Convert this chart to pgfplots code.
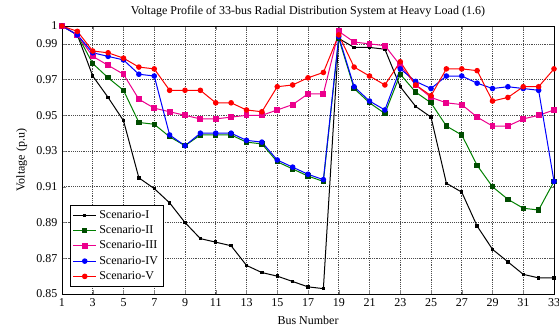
\documentclass[border=0pt]{standalone}
\usepackage{fontspec}
\setmainfont{Liberation Serif}
\usepackage{pgfplots}
\pgfplotsset{compat=1.18}
\definecolor{dgreen}{rgb}{0,0.5,0}
\definecolor{ddgreen}{rgb}{0,0.3,0}
\begin{document}
\begin{tikzpicture}
\begin{axis}[
  name=ax,
  scale only axis,
  width=369pt, height=201pt,
  xmin=1, xmax=33, ymin=0.85, ymax=1,
  xtick={1,3,...,33},
  ytick={0.85,0.87,0.89,0.91,0.93,0.95,0.97,0.99,1},
  yticklabel style={/pgf/number format/fixed,/pgf/number format/precision=2},
  /pgf/number format/assume math mode=true,
  tick label style={font=\fontsize{9}{10}\selectfont},
  label style={font=\fontsize{9}{10}\selectfont},
  title style={font=\fontsize{9}{10}\selectfont, yshift=-3pt},
  title={Voltage Profile of 33-bus Radial Distribution System at Heavy Load (1.6)},
  xlabel={Bus Number},
  ylabel={Voltage (p.u)},
  xlabel style={yshift=0pt},
  ylabel style={yshift=0pt},
  grid=major,
  major grid style={black!70, densely dotted, line width=0.5pt},
  tick align=inside,
  major tick length=3pt,
  axis line style={black, line width=0.5pt},
  legend style={at={(0.016,0.026)}, anchor=south west, font=\fontsize{9}{10}\selectfont, draw=black, line width=0.5pt, row sep=0pt, inner sep=2pt},
  legend cell align=left,
  every axis plot/.append style={line width=0.75pt},
]
\addplot[black, mark=square*, mark size=0.9pt] coordinates {
(1,1.000)(2,0.995)(3,0.972)(4,0.960)(5,0.947)(6,0.915)(7,0.909)(8,0.901)(9,0.890)(10,0.881)
(11,0.879)(12,0.877)(13,0.866)(14,0.862)(15,0.860)(16,0.857)(17,0.854)(18,0.853)(19,0.993)(20,0.988)
(21,0.988)(22,0.987)(23,0.966)(24,0.955)(25,0.949)(26,0.912)(27,0.907)(28,0.888)(29,0.875)(30,0.868)
(31,0.861)(32,0.859)(33,0.859)};
\addlegendentry{Scenario-I}
\addplot[dgreen, mark=square*, mark size=1.6pt, mark options={fill=ddgreen, draw=ddgreen}] coordinates {
(1,1.000)(2,0.995)(3,0.979)(4,0.971)(5,0.964)(6,0.946)(7,0.945)(8,0.938)(9,0.933)(10,0.939)
(11,0.939)(12,0.939)(13,0.935)(14,0.934)(15,0.924)(16,0.920)(17,0.916)(18,0.913)(19,0.993)(20,0.965)
(21,0.957)(22,0.951)(23,0.973)(24,0.963)(25,0.957)(26,0.944)(27,0.939)(28,0.922)(29,0.910)(30,0.903)
(31,0.898)(32,0.897)(33,0.913)};
\addlegendentry{Scenario-II}
\addplot[magenta, mark=square*, mark size=1.8pt] coordinates {
(1,1.000)(2,0.995)(3,0.983)(4,0.978)(5,0.973)(6,0.959)(7,0.954)(8,0.952)(9,0.950)(10,0.948)
(11,0.948)(12,0.949)(13,0.950)(14,0.950)(15,0.953)(16,0.956)(17,0.962)(18,0.962)(19,0.997)(20,0.991)
(21,0.990)(22,0.989)(23,0.978)(24,0.967)(25,0.960)(26,0.957)(27,0.956)(28,0.949)(29,0.944)(30,0.944)
(31,0.948)(32,0.950)(33,0.953)};
\addlegendentry{Scenario-III}
\addplot[blue, mark=*, mark size=1.7pt] coordinates {
(1,1.000)(2,0.995)(3,0.985)(4,0.983)(5,0.981)(6,0.973)(7,0.972)(8,0.939)(9,0.933)(10,0.940)
(11,0.940)(12,0.940)(13,0.936)(14,0.935)(15,0.925)(16,0.921)(17,0.917)(18,0.914)(19,0.994)(20,0.966)
(21,0.958)(22,0.953)(23,0.976)(24,0.969)(25,0.965)(26,0.972)(27,0.972)(28,0.968)(29,0.965)(30,0.966)
(31,0.965)(32,0.964)(33,0.913)};
\addlegendentry{Scenario-IV}
\addplot[red, mark=*, mark size=1.7pt] coordinates {
(1,1.000)(2,0.997)(3,0.986)(4,0.985)(5,0.982)(6,0.977)(7,0.976)(8,0.964)(9,0.964)(10,0.964)
(11,0.957)(12,0.957)(13,0.953)(14,0.952)(15,0.966)(16,0.967)(17,0.971)(18,0.974)(19,0.995)(20,0.977)
(21,0.972)(22,0.967)(23,0.980)(24,0.967)(25,0.961)(26,0.976)(27,0.976)(28,0.975)(29,0.958)(30,0.960)
(31,0.966)(32,0.966)(33,0.976)};
\addlegendentry{Scenario-V}
\end{axis}
\pgfresetboundingbox
\path[use as bounding box] ([xshift=-46.5pt, yshift=-27pt]ax.south west) rectangle ([xshift=3.75pt, yshift=19.5pt]ax.north east);
\end{tikzpicture}
\end{document}
